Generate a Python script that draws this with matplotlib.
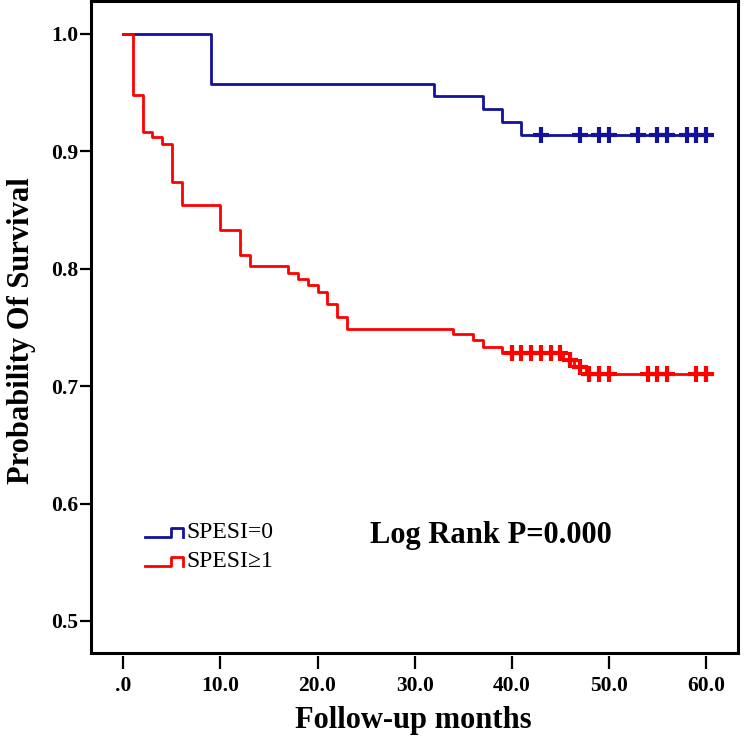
import numpy as np
import matplotlib
matplotlib.use("Agg")
import matplotlib.pyplot as plt

plt.rcParams['font.family'] = ['Liberation Serif', 'DejaVu Serif']

# Kaplan-Meier steps (months, survival)
blue_time = [0, 9, 32, 37, 39, 41, 60]
blue_surv = [1.0, 0.957, 0.947, 0.936, 0.925, 0.914, 0.914]
blue_cens = [43, 47, 49, 50, 53, 55, 56, 58, 59, 60]

red_time = [0, 1, 2, 3, 4, 5, 6, 10, 12, 13, 17, 18, 19, 20, 21, 22, 23,
            34, 36, 37, 39, 45.3, 46.4, 47.6, 60]
red_surv = [1.0, 0.948, 0.916, 0.912, 0.906, 0.874, 0.854, 0.833, 0.812, 0.802,
            0.796, 0.791, 0.786, 0.780, 0.770, 0.759, 0.749,
            0.744, 0.739, 0.733, 0.728, 0.722, 0.716, 0.710, 0.710]
red_cens = [40, 41, 42, 43, 44, 45, 46, 47, 48, 49, 50, 54, 55, 56, 59, 60]

group_labels = ["SPESI=0", "SPESI\u22651"]
xticks = [0, 10, 20, 30, 40, 50, 60]
xtick_labels = [".0", "10.0", "20.0", "30.0", "40.0", "50.0", "60.0"]
yticks = [0.5, 0.6, 0.7, 0.8, 0.9, 1.0]

BLUE = "#12129a"
RED = "#ff0000"


def level_at(times, surv, t):
    idx = np.searchsorted(times, t, side='right') - 1
    return np.array(surv)[idx]


fig = plt.figure(figsize=(7.5, 7.45), dpi=100)
ax = fig.add_axes([0.1213, 0.1235, 0.8627, 0.8752])

ax.step(blue_time, blue_surv, where='post', color=BLUE, lw=2.0)
ax.plot(blue_cens, level_at(blue_time, blue_surv, blue_cens), ls='none',
        marker='+', ms=11, mew=3, color=BLUE)
ax.step(red_time, red_surv, where='post', color=RED, lw=2.0)
ax.plot(red_cens, level_at(red_time, red_surv, red_cens), ls='none',
        marker='+', ms=11, mew=3, color=RED)

ax.set_xlim(-3.33, 63.3)
ax.set_ylim(0.4727, 1.028)

for s in ax.spines.values():
    s.set_linewidth(2.2)

ax.set_yticks(yticks)
ax.set_yticklabels([f"{v:.1f}" for v in yticks], fontsize=15.5, fontweight='bold')
ax.tick_params(axis='y', direction='out', length=8, width=1.6, pad=1)

# x ticks sit slightly below the frame, like SPSS output
ax.tick_params(axis='x', bottom=False, labelbottom=False)
sec = ax.secondary_xaxis(-0.005)
sec.spines['bottom'].set_visible(False)
sec.set_xticks(xticks)
sec.set_xticklabels(xtick_labels, fontsize=15.5, fontweight='bold')
sec.tick_params(axis='x', direction='out', length=9, width=1.6, pad=5)

fig.text(0.551, 0.033, "Follow-up months", ha='center', va='center',
         fontsize=22, fontweight='bold')
fig.text(0.029, 0.556, "Probability Of Survival", ha='center', va='center',
         rotation=90, fontsize=22, fontweight='bold')

# legend with step-shaped glyphs
for i, (lab, col) in enumerate(zip(group_labels, [BLUE, RED])):
    y0 = 0.178 - i * 0.045
    ax.plot([0.083, 0.124, 0.124, 0.142, 0.142],
            [y0, y0, y0 + 0.014, y0 + 0.014, y0],
            transform=ax.transAxes, color=col, lw=2.0, clip_on=False)
    ax.text(0.147, y0 + 0.007, lab, transform=ax.transAxes, ha='left',
            va='center', fontsize=17)

ax.text(0.431, 0.180, "Log Rank P=0.000", transform=ax.transAxes,
        ha='left', va='center', fontsize=22, fontweight='bold')

fig.savefig("out.png", dpi=100)
